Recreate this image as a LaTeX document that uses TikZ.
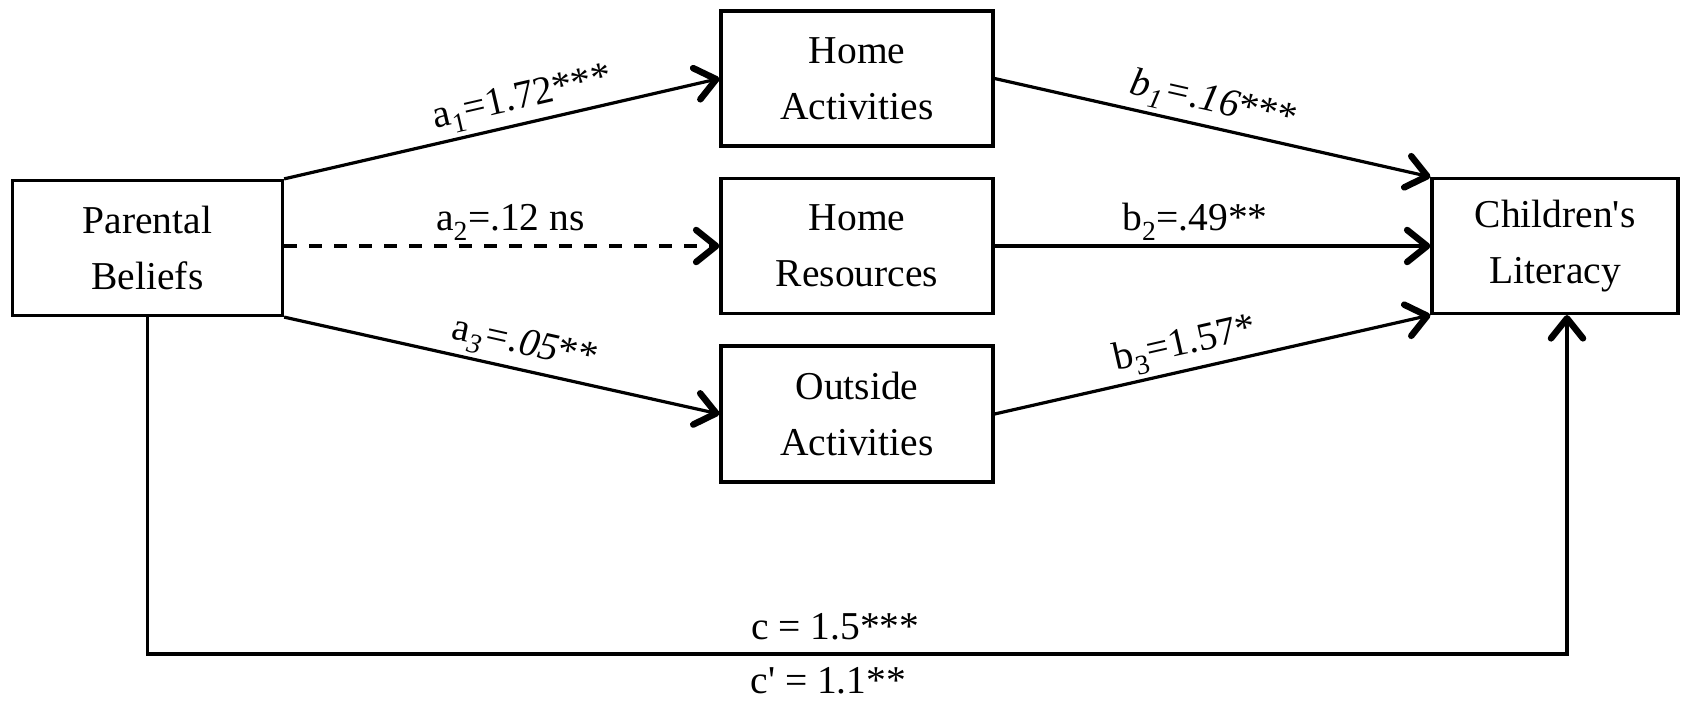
\documentclass[tikz,border=0pt]{standalone}
\usepackage{fontspec}
\setmainfont{Liberation Serif}
\usetikzlibrary{arrows.meta}
\begin{document}
\begin{tikzpicture}[x=1pt,y=-1pt,
  box/.style={draw,line width=3.2pt,minimum width=270pt,minimum height=135pt,
    align=center,inner sep=0pt,font=\fontsize{39.5}{56}\selectfont},
  conn/.style={line width=3.2pt,-{Straight Barb[length=20pt,width=32pt,line width=6.5pt,round]}},
  dashconn/.style={conn,dash pattern=on 13pt off 12pt},
  lbl/.style={font=\fontsize{39.5}{46}\selectfont,inner sep=4pt}]
\useasboundingbox (0,0) rectangle (1681,704);
\node[box] (PB) at (147.5,248) {Parental\\Beliefs};
\node[box,minimum width=272pt] (HA) at (857,78.5) {Home\\Activities};
\node[box,minimum width=272pt] (HR) at (857,246) {Home\\Resources};
\node[box,minimum width=272pt,minimum height=136pt] (OA) at (857,414) {Outside\\Activities};
\node[box,minimum width=246pt] (CL) at (1555,246) {Children\textquotesingle s\\Literacy};
\coordinate (cc) at (1567,654);
\draw[conn] (PB.north east) -- node[lbl,sloped,above,pos=0.56] {a\textsubscript{1}=1.72***} (HA.west);
\draw[dashconn] (PB.east|-HR.west) -- node[lbl,above,pos=0.52] {a\textsubscript{2}=.12 ns} (HR.west);
\draw[conn] (PB.south east) -- node[lbl,sloped,above,pos=0.54] {a\textsubscript{\itshape 3}\textit{=.05}**} (OA.west);
\draw[conn] (HA.east) -- node[lbl,sloped,above,pos=0.49] {\textit{b\textsubscript{1}=.16}***} (CL.north west);
\draw[conn] (HR.east) -- node[lbl,above,pos=0.46] {b\textsubscript{2}=.49**} (CL.west);
\draw[conn] (OA.east) -- node[lbl,sloped,above,pos=0.45] {b\textsubscript{3}=1.57*} (CL.south west);
\draw[conn] (PB.south) -- (PB.south|-cc)
  -- node[lbl,above,pos=0.4845,inner sep=12pt] {c = 1.5***}
     node[lbl,below,pos=0.4796,inner sep=12pt] {c\textquotesingle{} = 1.1**} (cc)
  -- (cc|-CL.south);
\end{tikzpicture}
\end{document}
